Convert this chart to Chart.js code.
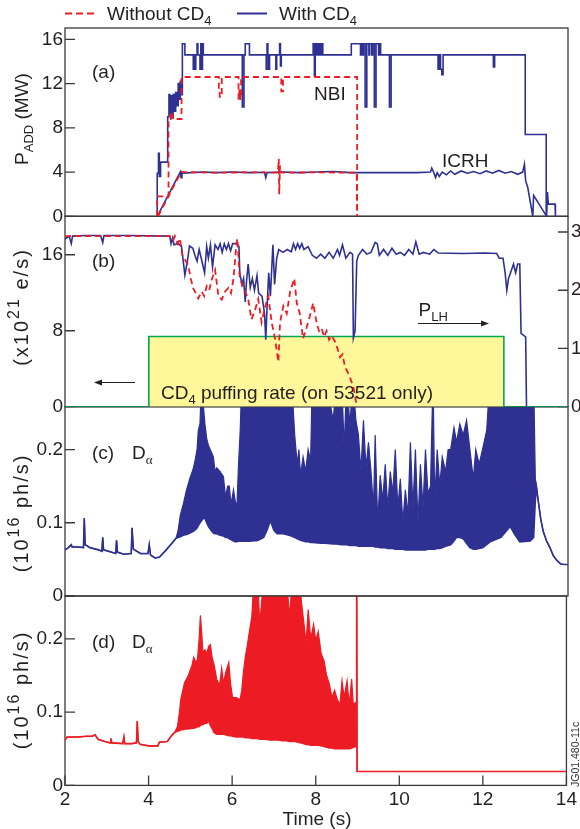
<!DOCTYPE html>
<html lang="en">
<head>
<meta charset="UTF-8">
<title>JET pulse comparison, with and without CD4</title>
<script src="https://cdn.jsdelivr.net/npm/chart.js"></script>
<style>
  body { margin: 0; background: #fff; }
  #wrap { position: relative; width: 580px; height: 829px; }
  #wrap canvas { position: absolute; left: 0; top: 0; }
</style>
</head>
<body>
<div id="wrap">
  <canvas id="panelD" width="580" height="829"></canvas>
  <canvas id="panelC" width="580" height="829"></canvas>
  <canvas id="panelB" width="580" height="829"></canvas>
  <canvas id="panelA" width="580" height="829"></canvas>
</div>
<script>
// ---- (a) additional heating power, MW ----
const nbiWithT = [4.2, 4.2, 4.23, 4.25, 4.28, 4.45, 4.48, 4.5, 4.53, 4.55, 4.58, 4.61, 4.64, 4.67, 4.7, 4.73, 4.75, 4.78,
  4.8, 4.86, 5.06, 5.08, 5.1, 5.12, 5.15, 5.17, 5.22, 5.24, 5.26, 5.28, 5.3, 6.23, 6.27, 6.3, 6.4,
  6.8, 6.82, 6.84, 6.86, 6.88, 7.03, 7.05, 7.12, 7.14, 7.16, 7.92, 7.95, 7.97, 8.0, 8.02, 8.05, 8.07, 8.1, 8.12, 8.15,
  8.83, 9.05, 9.07, 9.1, 9.12, 9.16, 9.2, 9.25, 9.27, 9.32, 9.34, 9.38, 9.42, 9.48, 9.5, 9.53, 9.74, 9.78,
  10.9, 10.93, 10.96, 10.99, 11.02, 12.22, 12.25, 12.98, 13.48];
const nbiWithV = [0, 3.9, 5.7, 3.6, 4.9, 9.0, 11.0, 9.2, 10.9, 8.9, 11.0, 9.5, 11.2, 10.0, 12.0, 10.6, 12.2, 11.0,
  15.6, 14.6, 13.3, 14.6, 13.3, 14.6, 15.6, 14.6, 13.3, 15.6, 13.3, 15.6, 14.6, 9.9, 14.6, 15.6, 14.6,
  13.3, 15.6, 14.6, 13.3, 14.6, 13.3, 14.6, 15.6, 13.6, 14.6, 15.6, 12.7, 15.6, 14.6, 15.6, 14.6, 15.6, 14.6, 15.6, 14.6,
  15.6, 14.6, 15.6, 14.6, 15.6, 9.9, 15.6, 14.6, 15.6, 14.6, 15.6, 9.9, 15.6, 14.6, 15.6, 14.6, 9.9, 14.6,
  13.3, 14.6, 13.3, 12.8, 14.6, 13.5, 14.6, 7.4, 0];
const nbiNoT = [4.2, 4.2, 4.47, 4.52, 4.57, 4.78, 5.67, 5.69, 5.74, 6.14, 6.16, 6.18, 6.2, 7.16, 7.2, 8.97];
const nbiNoV = [0, 1.8, 8.8, 9.4, 8.8, 12.6, 11.5, 10.8, 12.6, 10.6, 11.4, 10.6, 12.6, 11.3, 12.6, 0];

const icrhWithT = [4.2, 4.75, 4.77, 4.79, 4.82, 5.0, 5.3, 5.6, 6.0, 6.4, 6.76, 6.79, 6.82, 7.2, 7.6, 8.0, 8.4, 8.8,
  9.2, 9.6, 10.0, 10.4, 10.72, 10.75, 10.8, 10.84, 10.88, 10.93, 11.0, 11.1, 11.2, 11.3, 11.45, 11.6, 11.75, 11.9,
  12.05, 12.2, 12.35, 12.5, 12.65, 12.8, 12.92, 12.96, 12.99, 13.04, 13.16, 13.18, 13.49, 13.51, 13.53, 13.69, 13.7];
const icrhWithV = [0, 4.0, 3.5, 4.0, 3.9, 3.95, 4.0, 3.95, 4.0, 3.95, 3.98, 3.5, 3.95, 4.0, 3.95, 4.0, 4.05, 3.95,
  3.95, 3.95, 3.95, 3.95, 4.0, 4.35, 3.95, 3.5, 3.95, 3.6, 4.0, 3.75, 4.1, 3.8, 4.1, 3.9, 4.05, 3.85,
  4.1, 3.9, 4.15, 3.9, 4.05, 3.8, 4.0, 4.7, 3.2, 2.6, 0, 1.9, 0, 2.2, 1.1, 1.1, 0];
const icrhNoT = [4.22, 4.77, 5.5, 6.5, 7.08, 7.1, 7.11, 7.13, 7.15, 8.0, 8.96, 8.97];
const icrhNoV = [0, 4.0, 3.95, 3.97, 3.95, 5.2, 2.0, 4.6, 3.95, 3.97, 3.95, 0];

// ---- (b) LH power (MW, right axis) and CD4 puffing rate (1e21 e/s, left axis) ----
const plhWithT = [2.0, 2.1, 2.15, 2.18, 2.5, 2.85, 2.9, 2.93, 3.5, 4.5,
  4.53, 4.57, 4.6, 4.7, 4.78, 4.86, 4.92, 4.97, 5.05, 5.1,
  5.15, 5.2, 5.25, 5.33, 5.38, 5.42, 5.47, 5.52, 5.58, 5.65,
  5.7, 5.75, 5.8, 5.85, 5.9, 5.95, 6.0, 6.1, 6.15, 6.17,
  6.22, 6.26, 6.3, 6.33, 6.37, 6.42, 6.47, 6.52, 6.58, 6.62,
  6.7, 6.76, 6.79, 6.82, 6.86, 6.9, 6.96, 7.0, 7.05, 7.1,
  7.2, 7.3, 7.4, 7.45, 7.5, 7.55, 7.6, 7.65, 7.7, 7.8,
  7.9, 8.0, 8.1, 8.2, 8.3, 8.4, 8.5, 8.55, 8.62, 8.7,
  8.8, 8.86, 8.88, 8.92, 8.96, 9.0, 9.1, 9.2, 9.3, 9.4,
  9.45, 9.5, 9.6, 9.7, 9.8, 9.9, 10.0, 10.1, 10.2, 10.3,
  10.37, 10.45, 10.55, 10.7, 10.8, 10.9, 11.5, 12.0, 12.3, 12.36,
  12.45, 12.5, 12.54, 12.58, 12.63, 12.7, 12.75, 12.8, 12.85, 12.88,
  12.95, 12.99, 13.01];
const plhWithV = [2.88, 2.93, 2.8, 2.93, 2.94, 2.94, 2.82, 2.94, 2.94, 2.93,
  2.8, 2.9, 2.78, 2.8, 2.75, 2.26, 2.5, 2.76, 2.72, 2.6,
  2.5, 2.7, 2.55, 2.3, 2.75, 2.55, 2.78, 2.4, 2.78, 2.7,
  2.8, 2.65, 2.8, 2.7, 2.8, 2.68, 2.8, 2.8, 2.75, 2.3,
  2.1, 2.2, 1.8, 2.15, 2.45, 2.05, 2.2, 2.0, 2.25, 1.95,
  1.9, 1.6, 1.15, 1.7, 2.3, 1.9, 2.78, 2.1, 2.55, 2.7,
  2.65, 2.7, 2.66, 2.8, 2.7, 2.8, 2.72, 2.8, 2.7, 2.75,
  2.6, 2.55, 2.62, 2.55, 2.65, 2.55, 2.7, 2.6, 2.78, 2.55,
  2.65, 2.62, 1.18, 1.3, 2.5, 2.6, 2.7, 2.62, 2.65, 2.82,
  2.8, 2.6, 2.7, 2.6, 2.72, 2.62, 2.65, 2.6, 2.7, 2.62,
  2.83, 2.62, 2.65, 2.62, 2.7, 2.64, 2.63, 2.64, 2.63, 2.55,
  2.55, 2.3, 2.0, 2.2, 2.3, 2.45, 2.3, 2.45, 2.45, 1.26,
  1.22, 1.2, 0];
const plhNoT = [2.0, 4.5, 4.58, 4.62, 4.68, 4.74, 4.8, 4.94, 5.0, 5.06, 5.12, 5.18, 5.26, 5.32, 5.38, 5.44, 5.5, 5.58,
  5.66, 5.74, 5.82, 5.9, 5.96, 6.02, 6.08, 6.11, 6.17, 6.23, 6.29, 6.37, 6.45, 6.53, 6.61, 6.69, 6.77, 6.85,
  6.93, 7.01, 7.09, 7.13, 7.21, 7.29, 7.37, 7.47, 7.53, 7.6, 7.68, 7.76, 7.84, 7.92, 8.0, 8.06, 8.12, 8.18,
  8.24, 8.3, 8.36, 8.44, 8.5, 8.56, 8.62, 8.68, 8.74, 8.8, 8.88, 8.94, 8.97];
const plhNoV = [2.93, 2.93, 2.86, 2.93, 2.8, 2.89, 2.6, 2.43, 2.2, 2.03, 1.95, 1.86, 1.98, 1.9, 2.07, 2.0, 2.18, 2.35,
  1.9, 1.84, 1.98, 2.04, 1.95, 2.2, 2.72, 2.89, 2.2, 2.1, 2.0, 1.85, 1.5, 1.65, 1.85, 1.45, 1.7, 1.9,
  1.45, 1.17, 0.77, 1.45, 1.73, 1.6, 1.97, 2.2, 1.78, 1.6, 1.17, 1.35, 1.55, 1.78, 1.45, 1.3, 1.35, 1.2,
  1.3, 1.15, 1.22, 1.12, 1.0, 0.85, 0.9, 0.68, 0.6, 0.5, 0.34, 0.1, 0];
const puffT = [2.0, 4.0, 12.47, 14.0];
const puffV = [0, 7.4, 0, 0];

// ---- (c) D-alpha with CD4, 1e16 ph/s: time, lower trace, ELM peak envelope (null = no ELMs) ----
const daWithT = [2.0, 2.08, 2.15, 2.17, 2.3, 2.44, 2.46, 2.48, 2.6, 2.8, 2.88, 2.9, 2.92, 3.1, 3.21, 3.23, 3.25,
  3.4, 3.58, 3.6, 3.63, 3.8, 3.98, 4.01, 4.04, 4.15, 4.25, 4.4, 4.55, 4.65,
  4.7, 4.75, 4.82, 4.9, 4.98, 5.05, 5.1, 5.15, 5.18, 5.22, 5.26, 5.3, 5.34, 5.38, 5.42, 5.48, 5.54, 5.58, 5.62,
  5.7, 5.78, 5.83, 5.88, 5.92, 5.96, 6.02, 6.06, 6.1, 6.14, 6.18, 6.22, 6.4, 6.6, 6.74, 6.82, 6.88, 6.92, 6.98,
  7.06, 7.2, 7.28, 7.4, 7.48, 7.54, 7.58, 7.62, 7.68, 7.74, 7.8, 7.86, 7.9, 8.1, 8.2, 8.4, 8.48, 8.6, 8.66,
  8.72, 8.8, 8.86, 8.94, 9.0, 9.06, 9.12, 9.18, 9.24, 9.3, 9.36, 9.4, 9.46, 9.52, 9.58, 9.64, 9.7, 9.76,
  9.82, 9.88, 9.94, 10.0, 10.06, 10.12, 10.18, 10.24, 10.3, 10.36, 10.42, 10.48, 10.54, 10.6, 10.66, 10.72,
  10.78, 10.82, 10.88, 10.94, 11.0, 11.08, 11.14, 11.2, 11.28, 11.34, 11.42, 11.5, 11.58, 11.66, 11.74, 11.8,
  11.88, 11.96, 12.06, 12.14, 12.4, 12.55, 12.62, 12.72, 12.85, 13.1, 13.18, 13.22,
  13.25, 13.29, 13.35, 13.41, 13.49, 13.57, 13.65, 13.73, 13.82, 13.9, 14.0];
const daWithLow = [0.063, 0.066, 0.07, 0.067, 0.067, 0.066, 0.106, 0.07, 0.066, 0.063, 0.061, 0.08, 0.063, 0.06, 0.058, 0.076, 0.06,
  0.057, 0.058, 0.093, 0.064, 0.058, 0.058, 0.07, 0.056, 0.052, 0.053, 0.062, 0.072, 0.079,
  0.08, 0.081, 0.083, 0.084, 0.086, 0.088, 0.09, 0.093, 0.096, 0.1, 0.103, 0.106, 0.106, 0.1, 0.095, 0.09, 0.086, 0.085, 0.085,
  0.083, 0.082, 0.08, 0.08, 0.078, 0.077, 0.075, 0.074, 0.074, 0.075, 0.075, 0.075, 0.075, 0.076, 0.08, 0.09, 0.1, 0.1, 0.09,
  0.085, 0.085, 0.084, 0.082, 0.08, 0.078, 0.077, 0.076, 0.075, 0.074, 0.074, 0.073, 0.073, 0.072, 0.072, 0.071, 0.071, 0.07, 0.07,
  0.07, 0.069, 0.069, 0.069, 0.068, 0.068, 0.068, 0.068, 0.068, 0.068, 0.068, 0.067, 0.067, 0.066, 0.066, 0.066, 0.065, 0.065,
  0.065, 0.064, 0.064, 0.064, 0.064, 0.063, 0.063, 0.063, 0.063, 0.063, 0.063, 0.063, 0.063, 0.063, 0.064, 0.064,
  0.064, 0.064, 0.065, 0.065, 0.066, 0.068, 0.069, 0.07, 0.075, 0.08, 0.08, 0.078, 0.072, 0.066, 0.064, 0.064,
  0.065, 0.066, 0.07, 0.074, 0.08, 0.09, 0.095, 0.085, 0.074, 0.075, 0.08, 0.13,
  0.148, 0.13, 0.105, 0.088, 0.075, 0.066, 0.055, 0.049, 0.044, 0.043, 0.043];
const daWithPeak = [null, null, null, null, null, null, null, null, null, null, null, null, null, null, null, null, null,
  null, null, null, null, null, null, null, null, null, null, null, null, null,
  0.09, 0.11, 0.125, 0.145, 0.161, 0.172, 0.184, 0.2, 0.226, 0.235, 0.3, 0.26, 0.234, 0.215, 0.206, 0.198, 0.19, 0.17, 0.175,
  0.17, 0.163, 0.135, 0.15, 0.15, 0.125, 0.145, 0.13, 0.12, 0.18, 0.226, 0.3, 0.3, 0.3, 0.3, 0.3, 0.3, 0.3, 0.3,
  0.3, 0.25, 0.3, 0.3, 0.22, 0.18, 0.2, 0.165, 0.19, 0.17, 0.2, 0.185, 0.3, 0.28, 0.3, 0.24, 0.3, 0.3, 0.2,
  0.3, 0.23, 0.3, 0.24, 0.22, 0.17, 0.24, 0.175, 0.21, 0.17, 0.12, 0.22, 0.1, 0.165, 0.13, 0.18, 0.12, 0.17,
  0.14, 0.2, 0.12, 0.16, 0.1, 0.145, 0.11, 0.21, 0.12, 0.2, 0.1, 0.18, 0.12, 0.2, 0.14, 0.15,
  0.3, 0.13, 0.2, 0.15, 0.19, 0.17, 0.2, 0.2, 0.23, 0.21, 0.235, 0.22, 0.24, 0.2, 0.16, 0.2,
  0.18, 0.2, 0.226, 0.3, 0.3, 0.3, 0.3, 0.3, 0.3, 0.3, 0.3, 0.16,
  null, null, null, null, null, null, null, null, null, null, null];

// ---- (d) D-alpha without CD4 ----
const daNoT = [2.0, 2.05, 2.3, 2.5, 2.65, 2.72, 2.79, 2.95, 3.08, 3.1, 3.12, 3.38, 3.41, 3.43, 3.6, 3.71, 3.73, 3.75,
  3.8, 4.0, 4.22, 4.26, 4.45, 4.55, 4.62,
  4.69, 4.74, 4.77, 4.82, 4.86, 4.95, 5.04, 5.08, 5.13, 5.17, 5.21, 5.24, 5.27, 5.3, 5.35, 5.39, 5.44, 5.48,
  5.52, 5.57, 5.63, 5.7, 5.75, 5.79, 5.85, 5.92, 5.96, 6.01, 6.1, 6.19, 6.23, 6.27, 6.32, 6.36, 6.41, 6.47,
  6.54, 6.6, 6.66, 6.72, 6.8, 6.9, 7.0, 7.1, 7.2, 7.3, 7.38, 7.45, 7.51, 7.58, 7.66, 7.72, 7.77, 7.82, 7.88,
  7.95, 8.0, 8.06, 8.13, 8.2, 8.26, 8.32, 8.39, 8.45, 8.52, 8.58, 8.63, 8.68, 8.75, 8.8, 8.86, 8.9, 8.95,
  8.97, 8.98, 8.99, 14.0];
const daNoLow = [0.062, 0.066, 0.066, 0.067, 0.067, 0.069, 0.063, 0.06, 0.058, 0.064, 0.058, 0.057, 0.066, 0.057, 0.057, 0.058, 0.088, 0.06,
  0.056, 0.054, 0.054, 0.059, 0.06, 0.068, 0.072,
  0.074, 0.075, 0.076, 0.076, 0.077, 0.077, 0.078, 0.078, 0.079, 0.08, 0.08, 0.082, 0.083, 0.083, 0.085, 0.085, 0.088, 0.082,
  0.078, 0.072, 0.07, 0.07, 0.07, 0.07, 0.069, 0.068, 0.068, 0.067, 0.066, 0.066, 0.066, 0.066, 0.065, 0.065, 0.065, 0.064,
  0.064, 0.064, 0.063, 0.063, 0.063, 0.062, 0.062, 0.062, 0.061, 0.061, 0.06, 0.06, 0.06, 0.059, 0.058, 0.057, 0.056, 0.056, 0.055,
  0.055, 0.055, 0.055, 0.054, 0.053, 0.052, 0.051, 0.051, 0.05, 0.05, 0.05, 0.05, 0.05, 0.05, 0.05, 0.051, 0.052, 0.053,
  0.053, 0.3, 0.019, 0.019];
const daNoPeak = [null, null, null, null, null, null, null, null, null, null, null, null, null, null, null, null, null, null,
  null, null, null, null, null, null, null,
  0.08, 0.1, 0.117, 0.13, 0.14, 0.15, 0.164, 0.175, 0.168, 0.172, 0.2, 0.232, 0.21, 0.182, 0.185, 0.18, 0.19, 0.192,
  0.175, 0.164, 0.145, 0.137, 0.16, 0.14, 0.155, 0.168, 0.14, 0.12, 0.12, 0.117, 0.13, 0.155, 0.177, 0.19, 0.209, 0.23,
  0.3, 0.3, 0.22, 0.26, 0.3, 0.3, 0.3, 0.3, 0.3, 0.28, 0.23, 0.3, 0.26, 0.3, 0.25, 0.22, 0.195, 0.24, 0.2,
  0.22, 0.198, 0.21, 0.18, 0.17, 0.15, 0.14, 0.12, 0.13, 0.117, 0.11, 0.143, 0.12, 0.143, 0.11, 0.145, 0.11, 0.113,
  null, null, null, null];

// axis ticks
const timeTicks = [2, 4, 6, 8, 10, 12, 14];
const powerTicks = [0, 4, 8, 12, 16];
const puffTicks = [0, 8, 16];
const plhTicks = [0, 1, 2, 3];
const daTicks = [0, 0.1, 0.2];

const BLUE = '#2E3192', RED = '#ED1C24', GREEN = '#00A651', YELLOW = '#FFF799';
const INK = '#231F20', FRAME = '#3a3a3a';
const FONT = '"Liberation Sans", Arial, Helvetica, sans-serif';
const W = 580, H = 829;

Chart.defaults.font.family = FONT;
Chart.defaults.font.size = 19;
Chart.defaults.color = INK;

const xy = (ts, vs) => ts.map((t, i) => ({ x: t, y: vs[i] }));
const peaks = (ts, lo, hi) => ts.map((t, i) => ({ x: t, y: hi[i] == null ? lo[i] : hi[i] }));

// text with sub/superscript runs: parts = ['P', ['ADD', 'sub'], ' (MW)']
// o.spacing adds extra room after every character
function rich(ctx, parts, x, y, o = {}) {
  const size = o.size || 19;
  const gap = o.spacing || 0;
  const small = Math.round(size * (o.smallRatio || 0.68));
  const runs = parts.map(p => {
    const [txt, mode, fam] = Array.isArray(p) ? p : [p, ''];
    const font = `${mode ? small : size}px ${fam || FONT}`;
    ctx.font = font;
    const chars = [...txt].map(c => ({ c, w: ctx.measureText(c).width + gap }));
    return { mode, font, chars, w: gap ? chars.reduce((s, c) => s + c.w, 0) : ctx.measureText(txt).width, txt };
  });
  const total = runs.reduce((s, r) => s + r.w, 0);
  ctx.save();
  ctx.translate(x, y);
  if (o.rotate) ctx.rotate(-Math.PI / 2);
  ctx.fillStyle = o.color || INK;
  ctx.textAlign = 'left';
  ctx.textBaseline = 'alphabetic';
  let cx = o.center ? -total / 2 : 0;
  runs.forEach(r => {
    ctx.font = r.font;
    const dy = r.mode === 'sub' ? size * 0.28 : r.mode === 'sup' ? -size * 0.42 : 0;
    if (gap) {
      r.chars.forEach(c => { ctx.fillText(c.c, cx, dy); cx += c.w; });
    } else {
      ctx.fillText(r.txt, cx, dy);
      cx += r.w;
    }
  });
  ctx.restore();
}

function arrow(ctx, x1, x2, y) {
  const dir = Math.sign(x2 - x1);
  ctx.save();
  ctx.strokeStyle = INK;
  ctx.fillStyle = INK;
  ctx.lineWidth = 1.1;
  ctx.beginPath();
  ctx.moveTo(x1, y);
  ctx.lineTo(x2 - dir * 6, y);
  ctx.stroke();
  ctx.beginPath();
  ctx.moveTo(x2, y);
  ctx.lineTo(x2 - dir * 8, y - 3);
  ctx.lineTo(x2 - dir * 8, y + 3);
  ctx.closePath();
  ctx.fill();
  ctx.restore();
}

// box round the plot area and short inward tick marks
const frameTicks = {
  id: 'frameTicks',
  beforeDatasetsDraw(chart) {
    const { ctx, chartArea: a, scales } = chart;
    ctx.save();
    ctx.strokeStyle = FRAME;
    ctx.lineWidth = 1.3;
    ctx.strokeRect(a.left, a.top, a.right - a.left, a.bottom - a.top);
    ctx.beginPath();
    Object.values(scales).forEach(s => {
      if (!s.options.display) return;
      s.ticks.forEach(t => {
        const p = s.getPixelForValue(t.value);
        if (s.isHorizontal()) { ctx.moveTo(p, a.bottom); ctx.lineTo(p, a.bottom - 10); }
        else if (s.position === 'left') { ctx.moveTo(a.left, p); ctx.lineTo(a.left + 10, p); }
        else { ctx.moveTo(a.right, p); ctx.lineTo(a.right - 10, p); }
      });
    });
    ctx.stroke();
    ctx.restore();
  }
};

function yAxis(max, ticks, position = 'left') {
  return {
    type: 'linear', position, min: 0, max,
    afterFit: s => { s.width = position === 'left' ? 65 : 12; },
    afterBuildTicks: s => { s.ticks = ticks.map(v => ({ value: v })); },
    grid: { display: false, drawTicks: false },
    border: { display: false },
    ticks: { padding: position === 'left' ? 2 : 3, color: INK, font: { size: 19 } }
  };
}
const hiddenX = { type: 'linear', min: 2, max: 14, display: false };

function options(top, bottom, right, scales) {
  return {
    responsive: false, animation: false, devicePixelRatio: 1, events: [],
    layout: { padding: { top, bottom: H - bottom, left: 0, right } },
    plugins: { legend: { display: false }, tooltip: { enabled: false } },
    elements: { point: { radius: 0 }, line: { tension: 0 } },
    scales
  };
}

const solid = (data, color, width, extra = {}) => Object.assign({ data, borderColor: color, borderWidth: width, fill: false }, extra);
const dashed = (data, extra = {}) => solid(data, RED, 1.8, Object.assign({ borderDash: [6, 4] }, extra));
const unitLabel = { rotate: true, center: true, size: 20, smallRatio: 0.78, spacing: 2 };

// (a)
new Chart(document.getElementById('panelA'), {
  type: 'line',
  data: {
    datasets: [
      solid(xy(nbiWithT, nbiWithV), BLUE, 1.6, { stepped: true, order: 2 }),
      solid(xy(icrhWithT, icrhWithV), BLUE, 1.6, { order: 2 }),
      dashed(xy(nbiNoT, nbiNoV), { stepped: true, order: 1 }),
      dashed(xy(icrhNoT, icrhNoV), { order: 1 })
    ]
  },
  options: options(28, 216.3, 12, { x: hiddenX, y: yAxis(17.03, powerTicks) }),
  plugins: [frameTicks, {
    id: 'notesA',
    afterDraw(chart) {
      const ctx = chart.ctx;
      ctx.save();
      ctx.lineWidth = 2;
      ctx.strokeStyle = RED;
      ctx.setLineDash([7, 4]);
      ctx.beginPath(); ctx.moveTo(65, 13.5); ctx.lineTo(97, 13.5); ctx.stroke();
      ctx.setLineDash([]);
      ctx.strokeStyle = BLUE;
      ctx.beginPath(); ctx.moveTo(237, 13.5); ctx.lineTo(267, 13.5); ctx.stroke();
      ctx.restore();
      rich(ctx, ['Without CD', ['4', 'sub']], 107, 20);
      rich(ctx, ['With CD', ['4', 'sub']], 279, 20);
      rich(ctx, ['(a)'], 92, 78);
      rich(ctx, ['NBI'], 314, 100);
      rich(ctx, ['ICRH'], 442, 166.5);
      rich(ctx, ['P', ['ADD', 'sub'], ' (MW)'], 27.5, 119, { rotate: true, center: true });
    }
  }]
});

// (b)
new Chart(document.getElementById('panelB'), {
  type: 'line',
  data: {
    datasets: [
      solid(xy(puffT, puffV), GREEN, 1.6, { stepped: true, fill: 'origin', backgroundColor: YELLOW, yAxisID: 'y', order: 3 }),
      solid(xy(plhWithT, plhWithV), BLUE, 1.6, { yAxisID: 'y1', order: 2 }),
      dashed(xy(plhNoT, plhNoV), { yAxisID: 'y1', order: 1 })
    ]
  },
  options: options(216.3, 406.7, 0, { x: hiddenX, y: yAxis(20.05, puffTicks), y1: yAxis(3.27, plhTicks, 'right') }),
  plugins: [frameTicks, {
    id: 'notesB',
    afterDatasetDraw(chart, args) {
      if (args.index !== 0) return;
      rich(chart.ctx, ['CD', ['4', 'sub'], ' puffing rate (on 53521 only)'], 161, 398.5);
      arrow(chart.ctx, 135, 94, 382.5);
    },
    afterDraw(chart) {
      const ctx = chart.ctx;
      rich(ctx, ['(b)'], 92, 267);
      rich(ctx, ['P', ['LH', 'sub']], 418.5, 315.5);
      arrow(ctx, 418, 489, 323.5);
      rich(ctx, ['(x10', ['21', 'sup'], ' e/s)'], 27.5, 307, unitLabel);
    }
  }]
});

// (c)
new Chart(document.getElementById('panelC'), {
  type: 'line',
  data: {
    datasets: [
      solid(peaks(daWithT, daWithLow, daWithPeak), BLUE, 1.2, { fill: '+1', backgroundColor: BLUE }),
      solid(xy(daWithT, daWithLow), BLUE, 1.6)
    ]
  },
  options: options(406.7, 596, 12, { x: hiddenX, y: yAxis(0.2585, daTicks) }),
  plugins: [frameTicks, {
    id: 'notesC',
    afterDraw(chart) {
      const ctx = chart.ctx;
      rich(ctx, ['(c)'], 92, 458.5);
      rich(ctx, ['D', ['\u03b1', 'sub', '"Liberation Serif", serif']], 132, 458.5);
      rich(ctx, ['(10', ['16', 'sup'], ' ph/s)'], 27.5, 513, unitLabel);
    }
  }]
});

// (d)
new Chart(document.getElementById('panelD'), {
  type: 'line',
  data: {
    datasets: [
      solid(peaks(daNoT, daNoLow, daNoPeak), RED, 1.2, { fill: '+1', backgroundColor: RED }),
      solid(xy(daNoT, daNoLow), RED, 1.6)
    ]
  },
  options: options(596, H, 12, {
    x: {
      type: 'linear', min: 2, max: 14,
      afterFit: s => { s.height = H - 785.4; },
      afterBuildTicks: s => { s.ticks = timeTicks.map(v => ({ value: v })); },
      grid: { display: false, drawTicks: false },
      border: { display: false },
      ticks: { padding: 3, color: INK, maxRotation: 0, autoSkip: false, font: { size: 19 } }
    },
    y: yAxis(0.2585, daTicks)
  }),
  plugins: [frameTicks, {
    id: 'notesD',
    afterDraw(chart) {
      const ctx = chart.ctx;
      rich(ctx, ['(d)'], 92, 648);
      rich(ctx, ['D', ['\u03b1', 'sub', '"Liberation Serif", serif']], 132, 648);
      rich(ctx, ['(10', ['16', 'sup'], ' ph/s)'], 27.5, 690, unitLabel);
      rich(ctx, ['Time (s)'], 317, 824.5, { center: true });
      rich(ctx, ['JG01.480-11c'], 579, 787, { rotate: true, size: 10.5, color: '#333' });
    }
  }]
});
</script>
</body>
</html>
